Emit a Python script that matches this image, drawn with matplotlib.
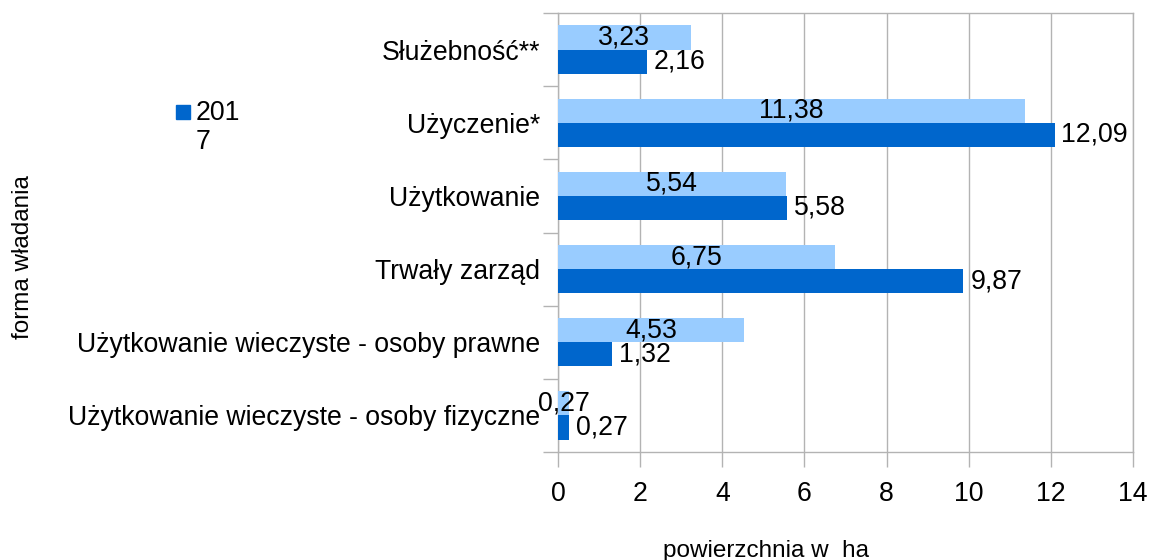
import matplotlib
matplotlib.use("Agg")
import matplotlib.pyplot as plt
import numpy as np
from matplotlib.patches import Rectangle

plt.rcParams['font.family'] = ['Liberation Sans', 'DejaVu Sans']

# categories from bottom to top
categories = [
    "Użytkowanie wieczyste - osoby fizyczne",
    "Użytkowanie wieczyste - osoby prawne",
    "Trwały zarząd",
    "Użytkowanie",
    "Użyczenie*",
    "Służebność**",
]
values_prev = [0.27, 4.53, 6.75, 5.54, 11.38, 3.23]   # light series (no legend entry)
values_2017 = [0.27, 1.32, 9.87, 5.58, 12.09, 2.16]
legend_label = "201\n7"
x_ticks = [0, 2, 4, 6, 8, 10, 12, 14]

light = "#99ccff"
dark = "#0066cc"
gray = "#b3b3b3"
fs = 19.2
fs_title = 17.5


def fmt(v):
    return ("%.2f" % v).replace(".", ",")


fig = plt.figure(figsize=(11.5, 5.6), dpi=100)
ax = fig.add_axes([558 / 1150, 1 - 452 / 560, (1133 - 558) / 1150, (452 - 13) / 560])

y = np.arange(len(categories))
h = 0.33
b1 = ax.barh(y + h / 2, values_prev, height=h, color=light, zorder=3)
b2 = ax.barh(y - h / 2, values_2017, height=h, color=dark, zorder=3)

ax.bar_label(b1, labels=[fmt(v) for v in values_prev], label_type='center',
             fontsize=fs, color='black', zorder=4)
ax.bar_label(b2, labels=[fmt(v) for v in values_2017], padding=5,
             fontsize=fs, color='black', zorder=4)

ax.set_xlim(0, 14)
ax.set_ylim(-0.5, len(categories) - 0.5)
ax.set_xticks(x_ticks)
ax.set_xticklabels([str(t) for t in x_ticks], fontsize=fs)
ax.set_yticks(y)
ax.set_yticklabels(categories, fontsize=fs)
ax.set_yticks(np.arange(-0.5, len(categories), 1), minor=True)

ax.tick_params(axis='y', which='major', length=0, pad=13)
ax.tick_params(axis='y', which='minor', length=11, width=1, color=gray)
ax.tick_params(axis='x', which='major', length=11, width=1, color=gray, pad=10)

ax.grid(True, axis='x', color=gray, linewidth=1, zorder=0)
for s in ax.spines.values():
    s.set_color(gray)
    s.set_linewidth(1)

fig.text(766 / 1150, 0.005, "powierzchnia w  ha", fontsize=fs_title, ha='center', va='baseline')
fig.text(23 / 1150, 1 - 257 / 560, "forma władania", fontsize=fs_title, rotation=90,
         ha='center', va='center')

# legend (only the 2017 series, label wrapped as in the original)
fig.add_artist(Rectangle((176 / 1150, 1 - 119 / 560), 14 / 1150, 14 / 560,
                         transform=fig.transFigure, color=dark))
fig.text(196 / 1150, 1 - 100 / 560, legend_label, fontsize=fs, ha='left', va='top',
         linespacing=1.15)

fig.savefig("out.png", dpi=100)
